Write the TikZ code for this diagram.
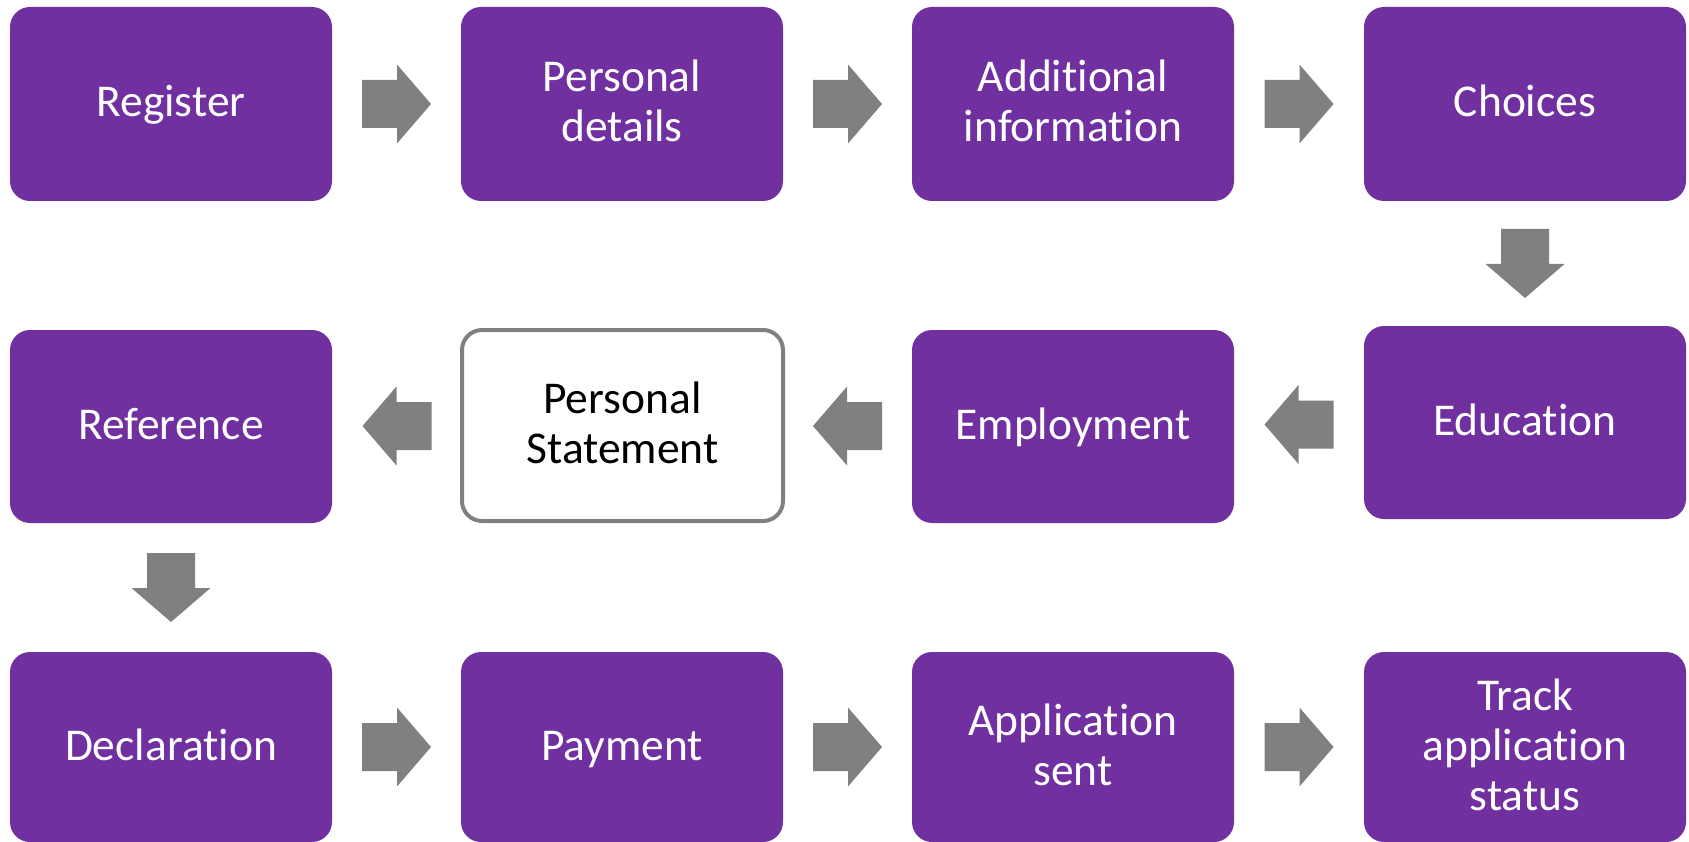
\documentclass[tikz,border=0pt]{standalone}
\usepackage{fontspec}
\setmainfont{Carlito}[Ligatures=NoCommon]
\usetikzlibrary{calc}
\definecolor{boxpurple}{HTML}{7030A0}
\definecolor{arrowgray}{HTML}{808080}
\newcommand{\mytopstrut}{\rule{0pt}{38pt}}
\newcommand{\mybotstrut}{\rule[-12pt]{0pt}{12pt}}
\tikzset{
  stepbox/.style={rounded corners=20pt, fill=boxpurple, text=white,
    minimum width=322pt, minimum height=193pt, align=center, inner sep=0pt,
    outer sep=0pt, font=\fontsize{45.5}{50}\selectfont},
  psbox/.style={stepbox, fill=white, draw=arrowgray, line width=4pt, text=black,
    minimum width=321pt, minimum height=191pt},
  barrow/.pic={\fill[arrowgray] (-34.5,-24) -- (0.5,-24) -- (0.5,-39.5) -- (34.5,0)
    -- (0.5,39.5) -- (0.5,24) -- (-34.5,24) -- cycle;}
}
\begin{document}
\begin{tikzpicture}[x=1pt, y=-1pt]
\useasboundingbox (0,0) rectangle (1689,842);
% row 1
\node[stepbox, minimum height=194pt] (reg) at (171,104) {\mytopstrut Register\mybotstrut};
\node[stepbox, minimum height=194pt] (pd)  at (622,104) {\mytopstrut Personal\\details\mybotstrut};
\node[stepbox, minimum height=194pt] (ai)  at (1073,104) {\mytopstrut Additional\\information\mybotstrut};
\node[stepbox, minimum height=194pt] (ch)  at (1525,104) {\mytopstrut Choices\mybotstrut};
% row 2
\node[stepbox] (edu) at (1525,422.5) {\mytopstrut Education\mybotstrut};
\node[stepbox] (emp) at (1073,426.5) {\mytopstrut Employment\mybotstrut};
\node[psbox]   (ps)  at (622.5,425.5) {\mytopstrut Personal\\Statement\mybotstrut};
\node[stepbox] (ref) at (171,426.5) {\mytopstrut Reference\mybotstrut};
% row 3
\node[stepbox, minimum height=190pt] (dec) at (171,747) {\mytopstrut Declaration\mybotstrut};
\node[stepbox, minimum height=190pt] (pay) at (622,747) {\mytopstrut Payment\mybotstrut};
\node[stepbox, minimum height=190pt] (as)  at (1073,747) {\mytopstrut Application\\sent\mybotstrut};
\node[stepbox, minimum height=190pt] (tr)  at (1525,747) {\mytopstrut Track\\application\\status\mybotstrut};
% arrows
\pic at ($(reg.east)!0.5!(pd.west)$) {barrow};
\pic at ($(pd.east)!0.5!(ai.west)$) {barrow};
\pic at ($(ai.east)!0.5!(ch.west)$) {barrow};
\pic[rotate=-90] at ($(ch.south)!0.5!(edu.north)$) {barrow};
\pic[rotate=180] at ($(edu.west)!0.5!(emp.east)$) {barrow};
\pic[rotate=180] at ($(emp.west)!0.5!(ps.east)$) {barrow};
\pic[rotate=180] at ($(ps.west)!0.5!(ref.east)$) {barrow};
\pic[rotate=-90] at ($(ref.south)!0.5!(dec.north)$) {barrow};
\pic at ($(dec.east)!0.5!(pay.west)$) {barrow};
\pic at ($(pay.east)!0.5!(as.west)$) {barrow};
\pic at ($(as.east)!0.5!(tr.west)$) {barrow};
\end{tikzpicture}
\end{document}
